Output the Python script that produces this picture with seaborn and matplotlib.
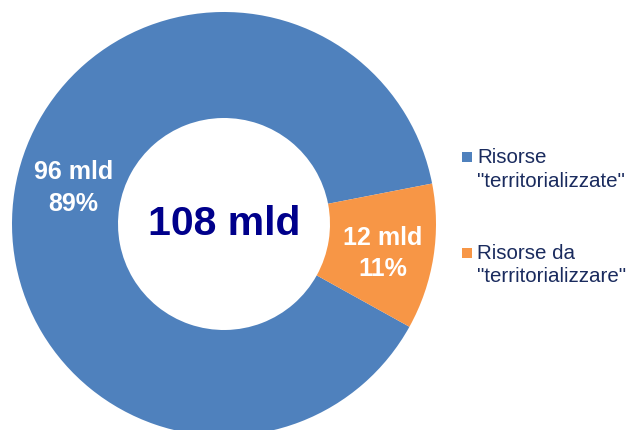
import matplotlib
matplotlib.use('Agg')
import matplotlib.pyplot as plt
from matplotlib.patches import Rectangle
import seaborn as sns

# data
categories = ['Risorse\n"territorializzate"', 'Risorse da\n"territorializzare"']
values_mld = [96, 12]
colors = ['#4f81bd', '#f79646']

sns.set_theme(style='white')
plt.rcParams['font.family'] = ['Liberation Sans', 'DejaVu Sans']

fig = plt.figure(figsize=(6.26, 4.30), dpi=100)
# pie axes: centre ~ (224, 224) px, radius ~212 px
ax = fig.add_axes([12 / 626, -6 / 430, 424 / 626, 424 / 430])

total = sum(values_mld)


def label_fmt(pct):
    v = round(pct * total / 100)
    return f'{v} mld\n{pct:.0f}%'


wedges, texts, autotexts = ax.pie(
    values_mld, colors=colors, startangle=11, counterclock=True,
    radius=1.0, autopct=label_fmt, pctdistance=0.76,
    wedgeprops=dict(width=0.5, linewidth=0),
    textprops=dict(color='white', fontsize=18, fontweight='bold'))
for t in autotexts:
    t.set_linespacing(1.4)
# nudge the labels a little
x0, y0 = autotexts[0].get_position()
autotexts[0].set_position((x0 + 0.04, y0 + 0.05))
x1, y1 = autotexts[1].get_position()
autotexts[1].set_position((x1, y1 - 0.02))

ax.text(0, 0, f'{total} mld', ha='center', va='center', fontsize=29.5,
        fontweight='bold', color='#00008b')
ax.set_xlim(-1, 1)
ax.set_ylim(-1, 1)
ax.axis('off')

# legend drawn by hand so the marker lines up with the first text line
leg_color = '#1a2b5e'
tops = [150, 246]
for top, lab, col in zip(tops, categories, colors):
    fig.patches.append(Rectangle((462 / 626, 1 - (top + 12) / 430), 10 / 626, 10 / 430,
                                 transform=fig.transFigure, facecolor=col,
                                 edgecolor='none'))
    fig.text(477 / 626, 1 - (top - 2) / 430, lab, ha='left', va='top',
             fontsize=14.8, color=leg_color, linespacing=1.3)

fig.savefig('out.png', dpi=100)
